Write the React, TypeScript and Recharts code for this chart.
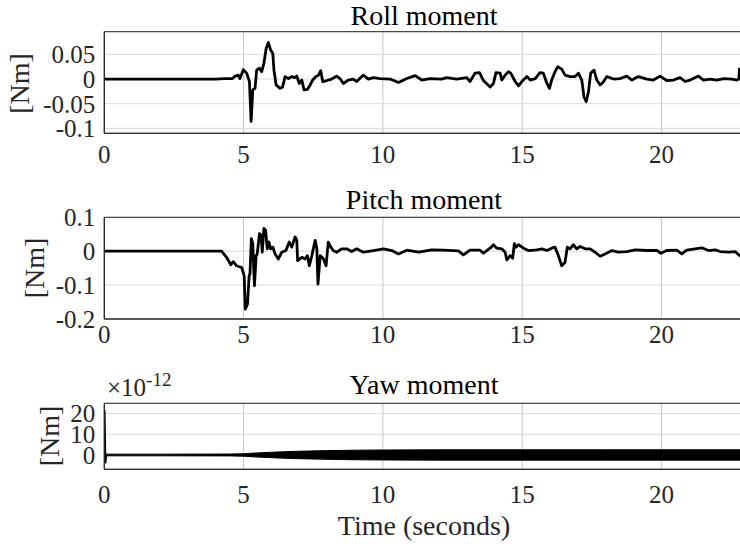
import { ComposedChart, Line, Area, XAxis, YAxis, CartesianGrid, ReferenceArea } from 'recharts';

const timeTicks = [0, 5, 10, 15, 20];

const rollTime = [0, 4.0, 4.3, 4.6, 4.7, 4.81, 4.87, 4.99, 5.11, 5.21, 5.27, 5.33, 5.41, 5.47, 5.57, 5.65, 5.73, 5.81, 5.89, 5.97, 6.05, 6.09, 6.17, 6.31, 6.4, 6.49, 6.61, 6.73, 6.85, 6.91, 7.0, 7.09, 7.17, 7.29, 7.39, 7.48, 7.6, 7.69, 7.77, 7.84, 7.99, 8.16, 8.34, 8.46, 8.58, 8.76, 8.94, 9.06, 9.3, 9.48, 9.66, 9.9, 10.26, 10.56, 10.86, 11.16, 11.4, 11.69, 12.11, 12.29, 12.65, 13.01, 13.13, 13.31, 13.47, 13.61, 13.85, 13.97, 14.06, 14.21, 14.27, 14.39, 14.51, 14.59, 14.75, 14.87, 14.99, 15.17, 15.29, 15.47, 15.64, 15.76, 15.89, 15.98, 16.06, 16.18, 16.28, 16.42, 16.54, 16.72, 16.9, 17.02, 17.14, 17.22, 17.3, 17.38, 17.46, 17.58, 17.68, 17.8, 17.9, 18.04, 18.28, 18.52, 18.76, 18.94, 19.17, 19.48, 19.71, 19.95, 20.19, 20.43, 20.67, 20.85, 21.03, 21.33, 21.51, 21.75, 21.99, 22.23, 22.53, 22.71, 22.78, 22.8, 22.9];
const rollValue = [0, 0, 0.001, 0.001, 0.006, 0.008, 0.001, 0.019, 0.012, -0.005, -0.086, -0.022, -0.019, 0.018, 0.022, 0.015, 0.032, 0.062, 0.074, 0.059, 0.052, 0.018, -0.012, -0.019, -0.016, 0.005, 0.001, 0.005, 0.003, 0.006, -0.009, -0.002, -0.022, -0.021, -0.012, -0.002, 0.005, 0.008, 0.017, -0.005, -0.003, 0, 0.006, 0.001, -0.009, -0.002, 0, -0.005, 0.008, 0, 0.003, 0.001, 0, -0.007, 0.001, 0.007, -0.002, 0.001, 0, 0.003, 0, 0.003, -0.005, 0.012, 0.013, -0.003, -0.016, -0.009, 0.013, 0.012, -0.002, 0.008, 0.015, 0.012, -0.005, -0.014, -0.005, 0.005, -0.002, 0.001, 0.013, 0.012, -0.009, -0.019, -0.002, 0.015, 0.025, 0.02, 0.008, 0.005, 0.005, 0.012, -0.002, -0.036, -0.046, -0.026, 0.012, 0.018, -0.002, -0.012, -0.007, 0.005, 0, 0.001, 0.006, -0.002, 0.005, 0, -0.002, 0.006, -0.003, -0.002, 0.003, -0.005, -0.002, 0.006, -0.002, 0, -0.002, 0.001, 0, -0.002, 0, 0.02, 0.02];

const pitchTime = [0, 4.0, 4.21, 4.39, 4.54, 4.63, 4.75, 4.93, 5.02, 5.06, 5.14, 5.2, 5.23, 5.28, 5.33, 5.39, 5.45, 5.49, 5.57, 5.63, 5.67, 5.73, 5.79, 5.85, 5.91, 5.97, 6.05, 6.13, 6.25, 6.37, 6.52, 6.64, 6.73, 6.85, 6.91, 6.94, 7.09, 7.21, 7.29, 7.36, 7.45, 7.57, 7.63, 7.67, 7.75, 7.87, 7.96, 8.04, 8.13, 8.22, 8.34, 8.52, 8.7, 8.88, 9.06, 9.3, 9.66, 10.02, 10.32, 10.56, 10.86, 11.28, 11.76, 12.17, 12.71, 12.89, 13.13, 13.49, 13.61, 13.85, 13.97, 14.09, 14.27, 14.39, 14.45, 14.57, 14.66, 14.72, 14.78, 14.87, 15.05, 15.22, 15.53, 15.71, 15.89, 16.06, 16.18, 16.3, 16.42, 16.54, 16.62, 16.72, 16.84, 16.96, 17.08, 17.26, 17.44, 17.62, 17.8, 17.98, 18.22, 18.46, 18.76, 19.06, 19.48, 19.84, 19.98, 20.19, 20.55, 20.73, 20.91, 21.21, 21.45, 21.69, 21.93, 22.11, 22.41, 22.65, 22.8, 22.9];
const pitchValue = [0, 0, 0, -0.018, -0.04, -0.031, -0.043, -0.048, -0.072, -0.171, -0.156, -0.072, -0.067, 0.037, 0.022, -0.102, -0.013, -0.008, 0.052, 0.047, -0.003, 0.067, 0.062, 0.007, 0.027, 0.007, 0.012, -0.008, -0.023, -0.003, 0.002, 0.027, 0.012, 0.042, 0.032, -0.028, -0.018, -0.023, -0.013, -0.043, -0.013, 0.032, 0.007, -0.097, -0.013, -0.023, -0.043, 0.027, 0.012, 0.002, -0.003, 0.007, 0.007, -0.001, 0.007, -0.003, 0.002, 0.007, 0.002, -0.008, 0.003, -0.003, 0.004, 0.003, 0.001, -0.011, 0.003, 0.003, -0.006, 0.009, 0.019, 0.009, 0.007, -0.003, -0.026, -0.013, -0.021, 0.022, 0.012, 0.019, 0.009, 0.002, 0.004, 0.007, 0.002, 0.009, 0.012, -0.013, -0.043, -0.033, 0.012, 0.007, 0.019, 0.007, 0.014, 0.007, 0.007, -0.003, -0.015, -0.008, 0.002, -0.003, -0.001, 0.004, 0.002, 0.002, -0.006, 0.002, 0.003, -0.008, 0.003, 0.007, 0.01, 0.002, 0.004, -0.001, -0.003, -0.001, -0.013, -0.013];

// yaw (x1e-12): envelope of the fast oscillation plus the start-up spike
const yawTime = [0.06, 2, 4.5, 5.0, 5.5, 6.0, 6.5, 7, 8, 9, 10, 12, 15, 18, 20, 23];
const yawUpper = [0.4, 0.4, 0.45, 0.6, 1.0, 1.3, 1.6, 1.8, 2.1, 2.3, 2.4, 2.5, 2.5, 2.5, 2.5, 2.5];
const yawLower = [-0.4, -0.4, -0.45, -0.6, -1.0, -1.3, -1.6, -1.8, -2.1, -2.3, -2.4, -2.5, -2.5, -2.5, -2.5, -2.5];
const spikeTime = [0, 0.03, 0.06];
const spikeValue = [21.6, -4, 0];

const rollTicks = [-0.1, -0.05, 0, 0.05];
const pitchTicks = [-0.2, -0.1, 0, 0.1];
const yawTicks = [0, 10, 20];

const rollData = rollTime.map((t, i) => ({ t, v: rollValue[i] }));
const pitchData = pitchTime.map((t, i) => ({ t, v: pitchValue[i] }));
const yawData = yawTime.map((t, i) => ({ t, band: [yawLower[i], yawUpper[i]] }));
const spikeData = spikeTime.map((t, i) => ({ t, v: spikeValue[i] }));

const FONT = 'Liberation Serif';
const INK = '#262626';
const tickStyle = { fontSize: 25, fill: INK, fontFamily: FONT, style: { fontFamily: FONT } };
const fmt = (v: number) => String(v);

function Panel({ top, height, plotTop, plotBottom, domain, yTicks, xMargin, children }: any) {
  const xAxisH = 30;
  return (
    <div style={{ position: 'absolute', left: 0, top }}>
      <ComposedChart
        width={745}
        height={height}
        margin={{ top: plotTop, right: 0, left: 0, bottom: height - plotBottom - xAxisH }}
        style={{ fontFamily: FONT }}
      >
        <CartesianGrid horizontal={false} stroke="#c4c4c4" />
        <CartesianGrid vertical={false} stroke="#dadada" />
        <XAxis
          type="number" dataKey="t" domain={[0, 23]} ticks={timeTicks} allowDataOverflow interval={0}
          height={xAxisH} tick={tickStyle} tickLine={false} tickSize={0} tickMargin={xMargin}
          axisLine={{ stroke: INK }} tickFormatter={fmt}
        />
        <YAxis
          type="number" domain={domain} ticks={yTicks} allowDataOverflow width={104.3} interval={0}
          tick={tickStyle} tickLine={false} tickSize={0} tickMargin={9}
          axisLine={{ stroke: INK }} tickFormatter={fmt}
        />
        <ReferenceArea x1={0} x2={23} y1={domain[0]} y2={domain[1]} fill="none" stroke={INK} strokeWidth={1} ifOverflow="visible" />
        {children}
      </ComposedChart>
    </div>
  );
}

export default function App() {
  return (
    <div style={{ position: 'absolute', left: 0, top: 0, width: 740, height: 547, overflow: 'hidden', background: '#fff', fontFamily: FONT }}>
      <Panel top={0} height={170} plotTop={31.7} plotBottom={133.3} domain={[-0.11, 0.096]} yTicks={rollTicks} xMargin={12}>
        <Line data={rollData} dataKey="v" stroke="#000" strokeWidth={2.8} dot={false} isAnimationActive={false} strokeLinejoin="round" />
      </Panel>
      <Panel top={180} height={175} plotTop={37.3} plotBottom={139} domain={[-0.2, 0.1]} yTicks={pitchTicks} xMargin={6}>
        <Line data={pitchData} dataKey="v" stroke="#000" strokeWidth={2.8} dot={false} isAnimationActive={false} strokeLinejoin="round" />
      </Panel>
      <Panel top={360} height={150} plotTop={43.3} plotBottom={109.3} domain={[-6.9, 24.9]} yTicks={yawTicks} xMargin={16}>
        <Area data={yawData} dataKey="band" stroke="#000" strokeWidth={1} fill="#000" fillOpacity={1} isAnimationActive={false} />
        <Line data={spikeData} dataKey="v" stroke="#000" strokeWidth={2.5} dot={false} isAnimationActive={false} />
      </Panel>
      <svg width={740} height={547} style={{ position: 'absolute', left: 0, top: 0, pointerEvents: 'none', fontFamily: FONT }}>
        <text x={424} y={25} textAnchor="middle" fontSize={28} fill="#000">Roll moment</text>
        <text x={424} y={208.5} textAnchor="middle" fontSize={28} fill="#000">Pitch moment</text>
        <text x={424} y={393.5} textAnchor="middle" fontSize={28} fill="#000">Yaw moment</text>
        <text x={424} y={535} textAnchor="middle" fontSize={28} fill={INK}>Time (seconds)</text>
        <text transform="translate(29,83.5) rotate(-90)" textAnchor="middle" fontSize={28} fill={INK}>[Nm]</text>
        <text transform="translate(44,268) rotate(-90)" textAnchor="middle" fontSize={28} fill={INK}>[Nm]</text>
        <text transform="translate(59,436) rotate(-90)" textAnchor="middle" fontSize={28} fill={INK}>[Nm]</text>
        <text x={107} y={396} fontSize={25} fill={INK}>
          ×10<tspan fontSize={19} dy={-10}>-12</tspan>
        </text>
      </svg>
    </div>
  );
}
